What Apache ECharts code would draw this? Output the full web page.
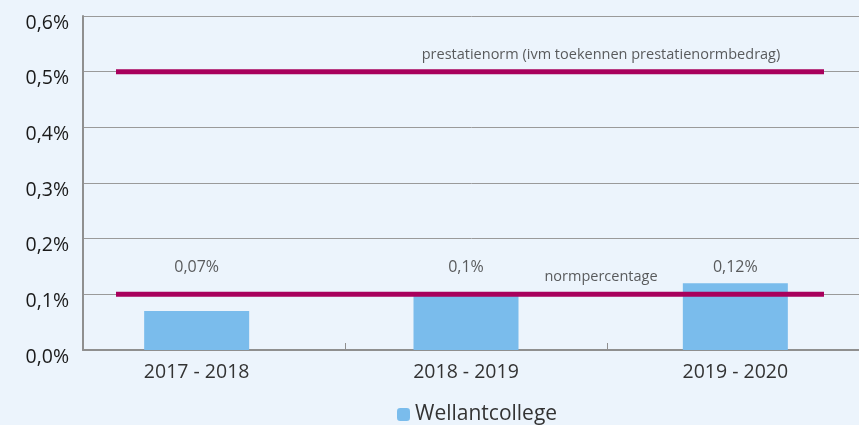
<!DOCTYPE html>
<html><head><meta charset="utf-8">
<script src="https://cdn.jsdelivr.net/npm/echarts@6/dist/echarts.min.js"></script>
<style>html,body{margin:0;padding:0;background:#ecf4fc;}#c{width:859px;height:425px;}</style>
</head><body><div id="c"></div>
<script>
const categories = ['2017 - 2018', '2018 - 2019', '2019 - 2020'];
const seriesName = 'Wellantcollege';
const values = [0.07, 0.1, 0.12];
const valueLabels = ['0,07%', '0,1%', '0,12%'];
const normPrestatie = 0.5;
const normPercentage = 0.1;
const normPrestatieLabel = 'prestatienorm (ivm toekennen prestatienormbedrag)';
const normPercentageLabel = 'normpercentage';
const yTicks = [0, 0.1, 0.2, 0.3, 0.4, 0.5, 0.6];

const labelLevel = 0.15;
const normLabelPos = 0.685;
const FONT = '"Open Sans", "Noto Sans", sans-serif';
const fmt = v => v.toFixed(1).replace('.', ',') + '%';

const chart = echarts.init(document.getElementById('c'));
chart.setOption({
  backgroundColor: '#ecf4fc',
  animation: false,
  grid: [
    { left: 83, right: -11, top: 16, bottom: 75, outerBoundsMode: 'none' },
    { left: 62, right: -11, top: 16, bottom: 75, outerBoundsMode: 'none' },
    { left: 116, right: 35, top: 16, bottom: 75, outerBoundsMode: 'none' }
  ],
  legend: {
    data: [seriesName], left: 392, top: 399, itemWidth: 13, itemHeight: 13, itemGap: 7,
    textStyle: { fontFamily: FONT, fontSize: 21, color: '#333' }
  },
  xAxis: [
    { gridIndex: 0, type: 'category', data: categories, boundaryGap: true,
      axisLine: { lineStyle: { color: '#8f8f8f', width: 2 } },
      axisTick: { show: true, inside: true, length: 7, lineStyle: { color: '#8f8f8f' } },
      axisLabel: { show: false } },
    { gridIndex: 1, type: 'category', data: categories,
      axisLine: { show: false }, axisTick: { show: false },
      axisLabel: { fontFamily: FONT, fontSize: 19.5, color: '#333', margin: 12 } },
    { gridIndex: 2, type: 'value', min: 0, max: 1, show: false }
  ],
  yAxis: [
    { gridIndex: 0, type: 'value', min: 0, max: 0.6, interval: 0.1,
      axisLine: { show: true, lineStyle: { color: '#8f8f8f', width: 2 } },
      axisTick: { show: false },
      splitLine: { lineStyle: { color: '#9a9a9a', width: 1 } },
      axisLabel: { formatter: v => fmt(v), fontFamily: FONT, fontSize: 19.5, color: '#1a1a1a', margin: 14,
        verticalAlign: 'top', lineHeight: 14 } },
    { gridIndex: 1, type: 'value', min: 0, max: 0.6, show: false },
    { gridIndex: 2, type: 'value', min: 0, max: 0.6, show: false }
  ],
  series: [
    { name: seriesName, type: 'bar', xAxisIndex: 1, yAxisIndex: 1, data: values,
      barWidth: 105, itemStyle: { color: '#7abcec' }, z: 2 },
    { type: 'scatter', xAxisIndex: 1, yAxisIndex: 1, symbolSize: 0, silent: true,
      data: categories.map(c => [c, labelLevel]),
      label: { show: true, position: 'inside', offset: [0, 1], formatter: p => valueLabels[p.dataIndex],
        fontFamily: FONT, fontSize: 16, fontWeight: 500, color: '#333' } },
    { type: 'line', xAxisIndex: 2, yAxisIndex: 2, symbol: 'none', silent: true, z: 5,
      data: [[0, normPrestatie], [1, normPrestatie]],
      lineStyle: { color: '#a8005c', width: 5 } },
    { type: 'line', xAxisIndex: 2, yAxisIndex: 2, symbol: 'none', silent: true, z: 5,
      data: [[0, normPercentage], [1, normPercentage]],
      lineStyle: { color: '#a8005c', width: 5 } },
    { type: 'scatter', xAxisIndex: 2, yAxisIndex: 2, symbolSize: 0, silent: true, z: 6,
      data: [[normLabelPos, normPrestatie], [normLabelPos, normPercentage]],
      label: { show: true, position: 'inside', offset: [0, -17],
        formatter: p => [normPrestatieLabel, normPercentageLabel][p.dataIndex],
        fontFamily: FONT, fontSize: 14.5, color: '#333' } }
  ]
});
</script></body></html>
